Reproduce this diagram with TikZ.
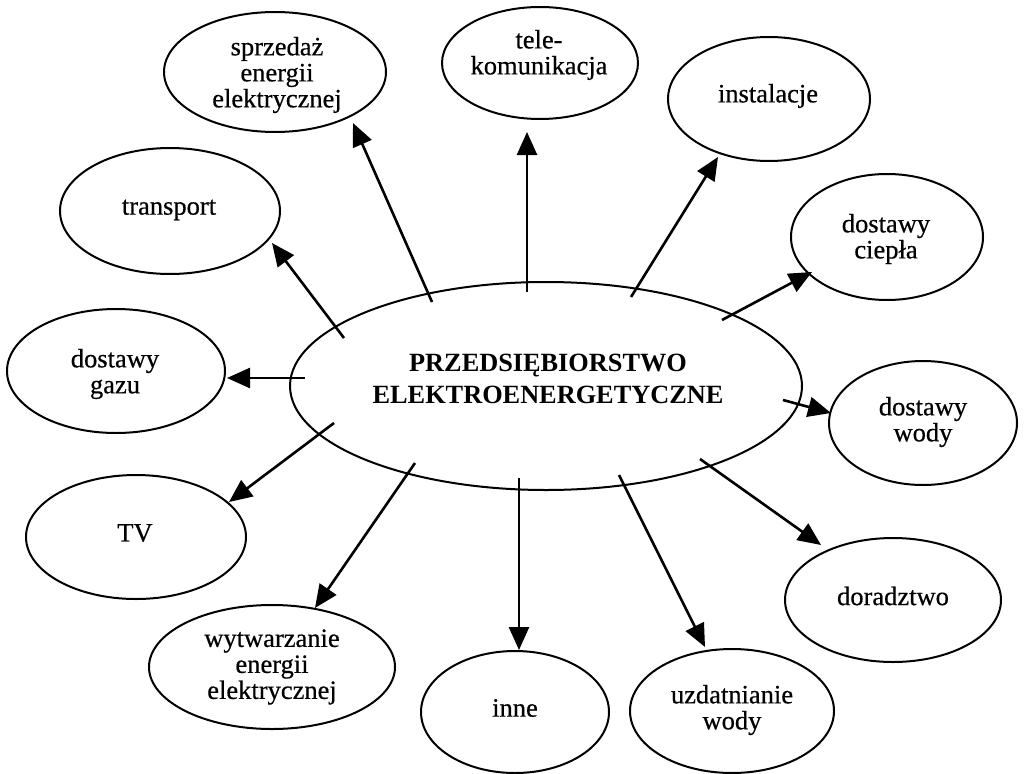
\documentclass[tikz,border=0pt]{standalone}
\usepackage{fontspec}
\setmainfont{Liberation Serif}
\newfontfamily\labelfont{Liberation Serif}[FakeBold=0.5]
\usetikzlibrary{arrows.meta,shapes.geometric}
\begin{document}
\begin{tikzpicture}[x=1pt,y=-1pt,
  bubble/.style={ellipse,draw,line width=2pt,inner sep=0pt},
  caption/.style={align=center,inner sep=0pt,
    font=\labelfont\fontsize{26.5}{26}\selectfont},
  link/.style={line width=2.6pt,-{Triangle[length=23pt,width=20pt]}}]
\useasboundingbox (0,0) rectangle (1024,773);

% central enterprise
\node[bubble,minimum width=512pt,minimum height=208pt] (hub) at (546,386) {};
\node[align=center,inner sep=0pt,font=\bfseries\fontsize{26.3}{32}\selectfont]
  (hub-text) at (548,379) {PRZEDSIĘBIORSTWO\\ELEKTROENERGETYCZNE};

% fields of activity: outline, then its caption
\node[bubble,minimum width=222pt,minimum height=120pt] (sprzedaz) at (275,72) {};
\node[caption] (sprzedaz-text) at (277,75) {sprzedaż\\energii\\elektrycznej};
\node[bubble,minimum width=196pt,minimum height=112pt] (tele) at (540,63) {};
\node[caption] (tele-text) at (539,55) {tele-\\komunikacja};
\node[bubble,minimum width=202pt,minimum height=124pt] (instal) at (769,99) {};
\node[caption] (instal-text) at (768,96) {instalacje};
\node[bubble,minimum width=220pt,minimum height=126pt] (transport) at (170,211) {};
\node[caption] (transport-text) at (169,210) {transport};
\node[bubble,minimum width=192pt,minimum height=126pt] (cieplo) at (887,237) {};
\node[caption] (cieplo-text) at (886,239) {dostawy\\ciepła};
\node[bubble,minimum width=218pt,minimum height=124pt] (gaz) at (116,371) {};
\node[caption] (gaz-text) at (115,374) {dostawy\\gazu};
\node[bubble,minimum width=188pt,minimum height=124pt] (woda) at (923,423) {};
\node[caption] (woda-text) at (923,422) {dostawy\\wody};
\node[bubble,minimum width=220pt,minimum height=124pt] (tv) at (136,537) {};
\node[caption] (tv-text) at (135,533) {TV};
\node[bubble,minimum width=216pt,minimum height=124pt] (doradztwo) at (893,600) {};
\node[caption] (doradztwo-text) at (893,596) {doradztwo};
\node[bubble,minimum width=246pt,minimum height=124pt] (wytw) at (272,667) {};
\node[caption] (wytw-text) at (272,667) {wytwarzanie\\energii\\elektrycznej};
\node[bubble,minimum width=188pt,minimum height=122pt] (inne) at (515,712) {};
\node[caption] (inne-text) at (515,708) {inne};
\node[bubble,minimum width=204pt,minimum height=124pt] (uzdat) at (732,711) {};
\node[caption] (uzdat-text) at (732,710) {uzdatnianie\\wody};

% arrow start points inside the hub and tip points near each field
\coordinate (s-sprzedaz) at (432,302);  \coordinate (t-sprzedaz) at (353,123);
\coordinate (s-tele) at (527,292);      \coordinate (t-tele) at (527,132);
\coordinate (s-instal) at (631,297);    \coordinate (t-instal) at (718,157);
\coordinate (s-transport) at (344,338); \coordinate (t-transport) at (272,243);
\coordinate (s-cieplo) at (722,320);    \coordinate (t-cieplo) at (812,272);
\coordinate (s-gaz) at (305,378);       \coordinate (t-gaz) at (227,378);
\coordinate (s-woda) at (783,400);      \coordinate (t-woda) at (831,413);
\coordinate (s-tv) at (334,423);        \coordinate (t-tv) at (229,502);
\coordinate (s-wytw) at (415,463);      \coordinate (t-wytw) at (315,608);
\coordinate (s-inne) at (519,478);      \coordinate (t-inne) at (519,650);
\coordinate (s-uzdat) at (619,475);     \coordinate (t-uzdat) at (705,647);
\coordinate (s-doradztwo) at (700,459); \coordinate (t-doradztwo) at (821,545);

\foreach \k in {sprzedaz,tele,instal,transport,cieplo,gaz,woda,tv,wytw,inne,uzdat,doradztwo}
  \draw[link] (s-\k) -- (t-\k);
\end{tikzpicture}
\end{document}
